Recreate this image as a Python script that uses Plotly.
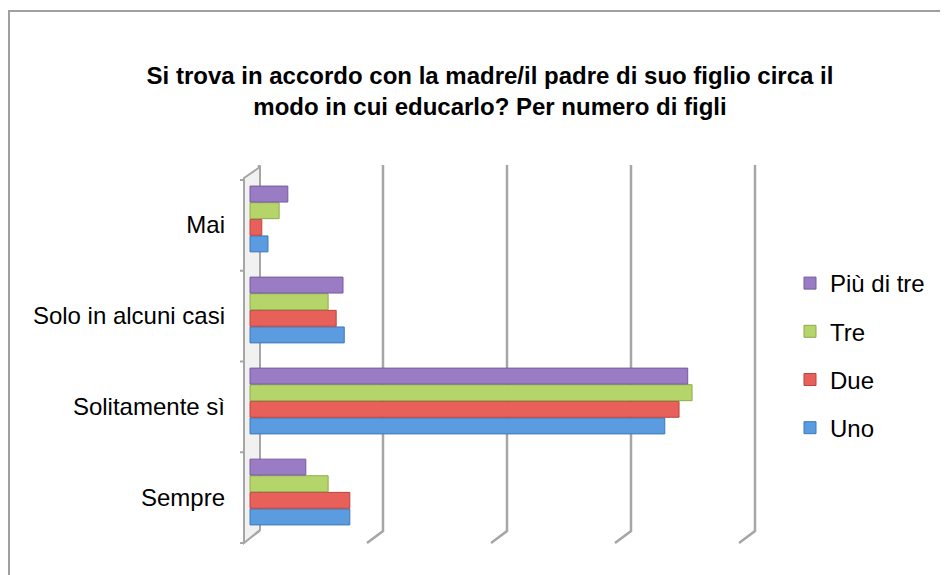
import plotly.graph_objects as go

# answers, bottom to top as plotly lays out categories
categories = ["Sempre", "Solitamente sì", "Solo in alcuni casi", "Mai"]

uno = [16.1, 66.9, 15.2, 2.9]
due = [16.1, 69.2, 13.9, 1.9]
tre = [12.6, 71.3, 12.6, 4.7]
piu_di_tre = [9.0, 70.6, 15.0, 6.1]

series = [
    ("Uno", uno, "#5b9be0", "#3f78b8"),
    ("Due", due, "#e8605a", "#b94440"),
    ("Tre", tre, "#b5d56a", "#8eab4a"),
    ("Più di tre", piu_di_tre, "#9a7cc4", "#765a9e"),
]

gridlines = [0, 20, 40, 60, 80]

# page has an 8px body margin, so the figure is laid out 8px up/left
L, R, T, B = 230, 762, 152, 538
W, H = 948, 575
PX = 6.2  # pixels per percent point

fig = go.Figure()
for i, (name, vals, col, edge) in enumerate(series):
    fig.add_trace(go.Bar(
        y=categories, x=vals, name=name, orientation="h",
        marker=dict(color=col, line=dict(color=edge, width=1)),
        legendgroup=name, legendrank=4 - i,
    ))

shapes = []
# 3D-ish gridlines: back wall vertical + diagonal onto the floor
for g in gridlines:
    shapes.append(dict(
        type="path", xref="x", yref="paper",
        xsizemode="pixel", ysizemode="pixel", xanchor=g, yanchor=0,
        path="M 9,381 L 9,15 L -7,3",
        line=dict(color="#a6a6a6", width=2.5), layer="below",
    ))
# left wall
shapes.append(dict(
    type="path", xref="x", yref="paper",
    xsizemode="pixel", ysizemode="pixel", xanchor=0, yanchor=0,
    path="M -6,368 L 10,379 L 10,16 L -6,3 Z",
    fillcolor="#f1f1f1", line=dict(color="#a6a6a6", width=2), layer="below",
))
# left axis ticks
for k in range(5):
    yk = k / 4 * (363 / 386) + 3 / 386
    shapes.append(dict(
        type="line", xref="x", yref="paper",
        xsizemode="pixel", xanchor=0, x0=-10, x1=-6, y0=yk, y1=yk,
        line=dict(color="#a6a6a6", width=2),
    ))
# chart border (only left and top are visible)
shapes.append(dict(
    type="rect", xref="paper", yref="paper",
    x0=(1 - L) / (R - L), x1=1.5, y0=-0.2, y1=(B - 3) / (B - T),
    line=dict(color="#a0a0a0", width=2), fillcolor="rgba(0,0,0,0)",
))

fig.update_layout(
    width=W, height=H,
    margin=dict(l=L, r=W - R, t=T, b=H - B),
    paper_bgcolor="white", plot_bgcolor="rgba(0,0,0,0)",
    font=dict(family="Liberation Sans, Arial, sans-serif", size=24, color="black"),
    title=dict(
        text="<b>Si trova in accordo con la madre/il padre di suo figlio circa il<br>"
             "modo in cui educarlo? Per numero di figli</b>",
        x=482 / W, xref="container", xanchor="center",
        y=1 - 76 / H, yref="container", yanchor="middle",
        font=dict(size=24, color="black"),
    ),
    barmode="group", bargap=0.27, bargroupgap=0.04,
    xaxis=dict(range=[-12 / PX, 520 / PX], showgrid=False, zeroline=False,
               showticklabels=False, showline=False, automargin=False),
    yaxis=dict(range=[-0.593, 3.648], showgrid=False, zeroline=False,
               showline=False, ticks="", ticklabelstandoff=12, ticklabelshift=6,
               automargin=False, tickfont=dict(size=24, color="black")),
    legend=dict(
        x=782 / W, xref="container", xanchor="left",
        y=1 - 253 / H, yref="container", yanchor="top",
        traceorder="grouped", tracegroupgap=14,
        font=dict(size=24, color="black"), bgcolor="rgba(0,0,0,0)",
    ),
    shapes=shapes,
)

fig.write_html("out.html")
